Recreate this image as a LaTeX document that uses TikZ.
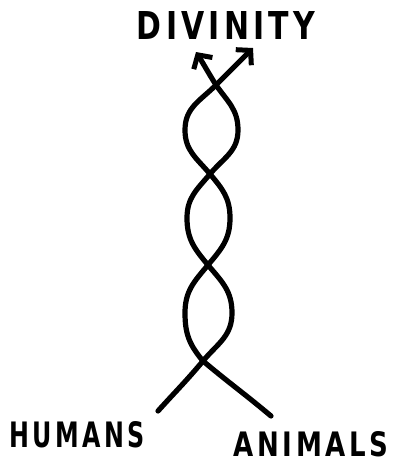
\documentclass[tikz,border=0pt]{standalone}
\usepackage{fontspec}
\setsansfont{DejaVu Sans}[LetterSpace=14]
\usetikzlibrary{arrows.meta}
\begin{document}
\begin{tikzpicture}[x=1pt,y=-1pt,
  strand/.style={line width=5.2pt, line cap=round, line join=round},
  tipped/.style={strand, -{Straight Barb[length=10pt,width=22pt,line width=5pt]}},
  label/.style={inner sep=0pt, anchor=center}]
\useasboundingbox (0,0) rectangle (395,464);
% crossings
\coordinate (c0) at (216,85);
\coordinate (c1) at (210,174);
\coordinate (c2) at (208,265);
\coordinate (c3) at (203,361);
% loop extremes
\coordinate (L1) at (185,130);
\coordinate (R1) at (238,130);
\coordinate (L2) at (187,218);
\coordinate (R2) at (230,218);
\coordinate (L3) at (185,313);
\coordinate (R3) at (232,313);
% ends
\coordinate (tA) at (196,52);
\coordinate (tB) at (253,48);
\coordinate (hEnd) at (158,411);
\coordinate (aEnd) at (271,416);
\tikzset{arc/.style={looseness=1.05}}
% strand from humans
\draw[tipped,arc] (hEnd) to[out=48,in=-130] (c3) to[out=50,in=-90] (R3)
  to[out=90,in=-50] (c2) to[out=130,in=-90] (L2) to[out=90,in=-130] (c1)
  to[out=50,in=-90] (R1) to[out=90,in=-55] (c0) to[out=122,in=-58] (tA);
% strand from animals
\draw[tipped,arc] (aEnd) to[out=140,in=-40] (c3) to[out=130,in=-90] (L3)
  to[out=90,in=-130] (c2) to[out=50,in=-90] (R2) to[out=90,in=-50] (c1)
  to[out=130,in=-90] (L1) to[out=90,in=-135] (c0) to[out=45,in=-135] (tB);
% labels
\node[label] (div) at (226,25) {\resizebox{178pt}{28pt}{\sffamily\bfseries DIVINITY}};
\node[label] (hum) at (77,435) {\resizebox{135pt}{26pt}{\sffamily\bfseries HUMANS}};
\node[label] (ani) at (311,444) {\resizebox{155pt}{25pt}{\sffamily\bfseries ANIMALS}};
\end{tikzpicture}
\end{document}
